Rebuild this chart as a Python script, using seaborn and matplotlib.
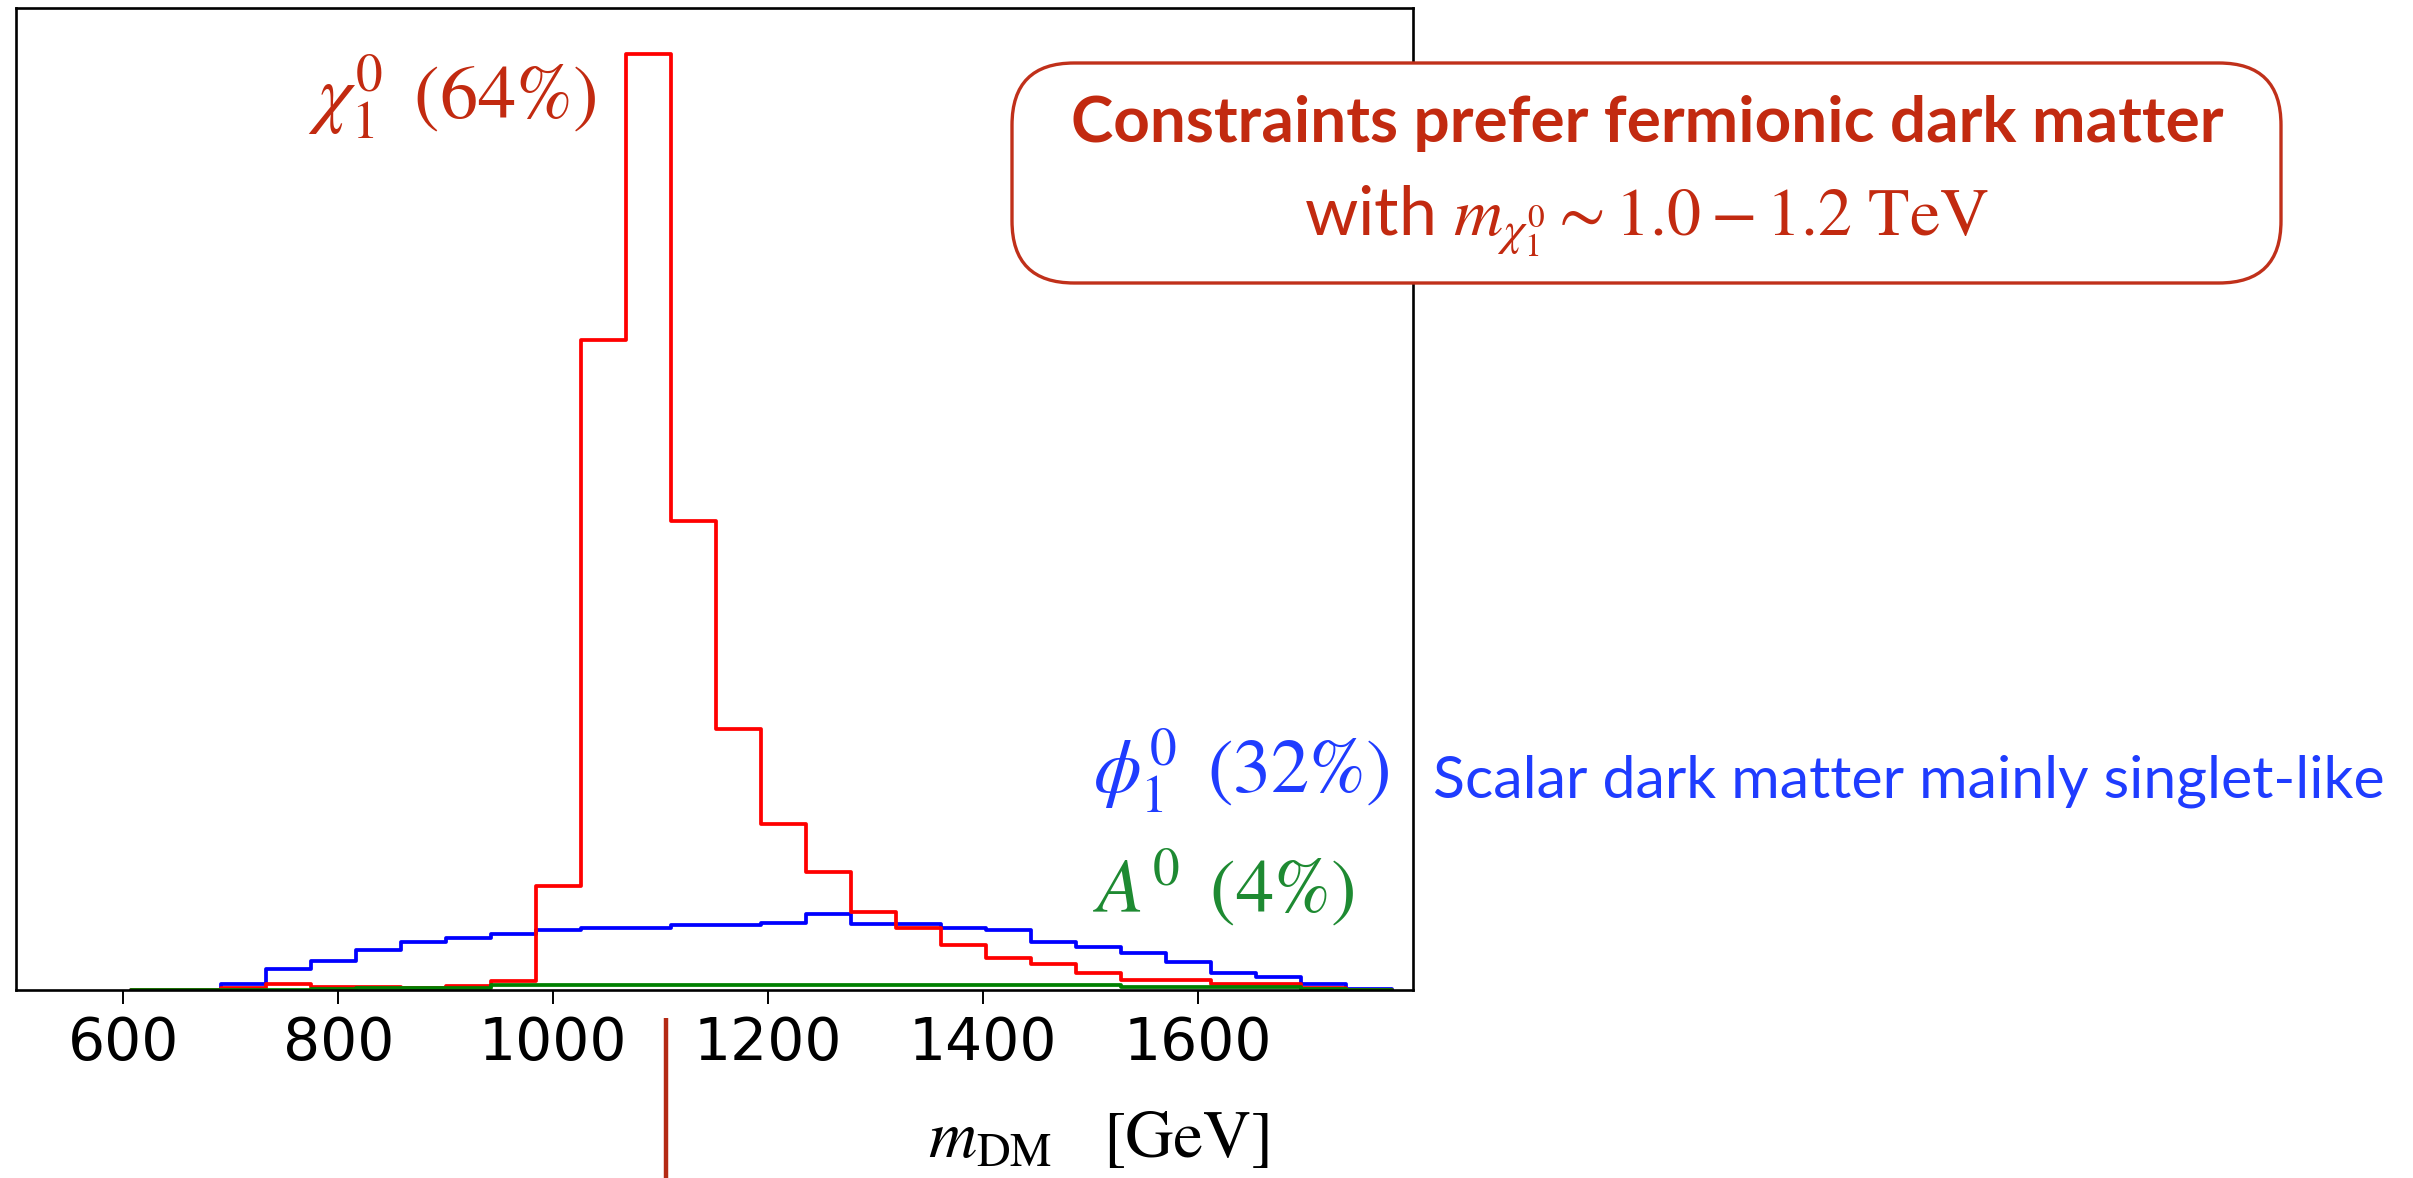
import numpy as np
import pandas as pd
import matplotlib
matplotlib.use("Agg")
import matplotlib.pyplot as plt
import matplotlib.transforms as mtransforms
from matplotlib.patches import FancyBboxPatch
import seaborn as sns

# ---- binned dark-matter mass samples (28 equal bins, GeV) ----
bin_lo, bin_hi, n_bins = 607.0, 1780.0, 28
chi_counts = [0, 0, 1.5, 6, 3, 2.5, 1.5, 3.5, 9, 104, 649, 934, 468, 261,
              166, 118, 78, 62, 45, 32, 25.5, 17.3, 9.7, 9.7, 6.3, 6.3, 2, 0]
phi_counts = [0, 0, 5.7, 21, 29, 40, 48, 52, 56, 60, 62, 62, 64.7, 64.7,
              67.3, 75.7, 66.3, 66.3, 61.7, 59.7, 48.3, 43, 37.3, 28.3,
              17.3, 13, 5.7, 1.3]
a_counts = [0, 0, 0, 0, 0.5, 2.3, 2.3, 2.3, 4.7, 4.7, 4.7, 4.7, 4.7, 4.7,
            4.7, 4.7, 4.7, 4.7, 4.7, 4.7, 4.7, 4.7, 3, 3, 3, 3, 0.5, 0]

species = [r"$\chi_1^0$", r"$\phi_1^0$", r"$A^0$"]
fractions = [r"64\%", r"32\%", r"4\%"]
line_colors = {"chi": "red", "phi": "blue", "A": "green"}

x_ticks = [600, 800, 1000, 1200, 1400, 1600]
x_range = (500, 1800)
marker_mass = 1105  # GeV, marker under the axis

edges = list(np.linspace(bin_lo, bin_hi, n_bins + 1))
centers = [0.5 * (a + b) for a, b in zip(edges[:-1], edges[1:])]
df = pd.DataFrame({
    "mass": np.tile(centers, 3),
    "count": np.concatenate([phi_counts, chi_counts, a_counts]),
    "kind": np.repeat(["phi", "chi", "A"], n_bins),
})

sns.set_style("ticks")
plt.rcParams["font.family"] = ["DejaVu Sans"]
plt.rcParams["mathtext.fontset"] = "stix"

W, H = 2413, 1178
fig = plt.figure(figsize=(W / 100, H / 100), dpi=100)
fig.patch.set_facecolor("white")
ax = fig.add_axes([16 / W, 1 - 990 / H, (1413 - 16) / W, (990 - 7.5) / H])
ax.set_facecolor("white")

# blue first, then red, then green on top
for kind in ["phi", "chi", "A"]:
    sns.histplot(data=df[df["kind"] == kind], x="mass", weights="count",
                 bins=edges, element="step", fill=False,
                 color=line_colors[kind], linewidth=2.7, ax=ax)

ax.set_xlim(*x_range)
ax.set_xticks(x_ticks)
ax.set_xticklabels([str(t) for t in x_ticks])
ax.set_yticks([])
ax.set_xlabel("")
ax.set_ylabel("")
ax.tick_params(axis="x", labelsize=42, length=10, width=1.4, pad=8,
               colors="black", direction="out")
for sp in ax.spines.values():
    sp.set_visible(True)
    sp.set_linewidth(1.9)
    sp.set_color("black")

# marker tick below the axis at the preferred mass
blend = mtransforms.blended_transform_factory(ax.transData, ax.transAxes)
ax.plot([marker_mass, marker_mass], [-0.0285, -0.2], transform=blend,
        color="#B42A14", linewidth=3.2, clip_on=False, solid_capstyle="butt")

dark_red = "#C22A10"
text_blue = "#1F3CFF"
text_green = "#1E8A32"
serif = ["STIXGeneral", "DejaVu Serif"]
sans = ["Lato", "DejaVu Sans"]


def share_label(xpix, ypix, name, frac, color):
    fig.text(xpix / W, 1 - ypix / H, name + r"$\ \,(" + frac + r")$",
             color=color, fontsize=55, ha="left", va="baseline", family=serif)


share_label(308, 118, species[0], fractions[0], dark_red)
share_label(1093, 792, species[1], fractions[1], text_blue)
share_label(1093, 912, species[2], fractions[2], text_green)

fig.text(1433 / W, 1 - 797 / H, "Scalar dark matter mainly singlet-like",
         color=text_blue, fontsize=42.5, ha="left", va="baseline",
         family=sans)

# callout box
box = FancyBboxPatch((1012, H - 283), 2281 - 1012, 283 - 63,
                     boxstyle="round,pad=0,rounding_size=62",
                     transform=mtransforms.IdentityTransform(),
                     facecolor="white", edgecolor="#C0301A", linewidth=2.4,
                     zorder=5)
fig.add_artist(box)
fig.text(1647 / W, 1 - 142 / H, "Constraints prefer fermionic dark matter",
         color=dark_red, fontsize=46, fontweight="bold", ha="center",
         va="baseline", family=sans, zorder=6)
fig.text(1646 / W, 1 - 235 / H,
         r"with $m_{\chi_1^0} \sim 1.0 - 1.2\ \mathrm{TeV}$",
         color=dark_red, fontsize=49, ha="center", va="baseline",
         family=sans, zorder=6)

# axis title under the tick labels
fig.text(928 / W, 1 - 1157 / H, r"$m_{\rm DM}$",
         color="black", fontsize=48, ha="left", va="baseline", family=serif)
fig.text(1103 / W, 1 - 1157 / H, "[GeV]",
         color="black", fontsize=48, ha="left", va="baseline", family=serif)

fig.savefig("out.png", dpi=100, facecolor="white")
